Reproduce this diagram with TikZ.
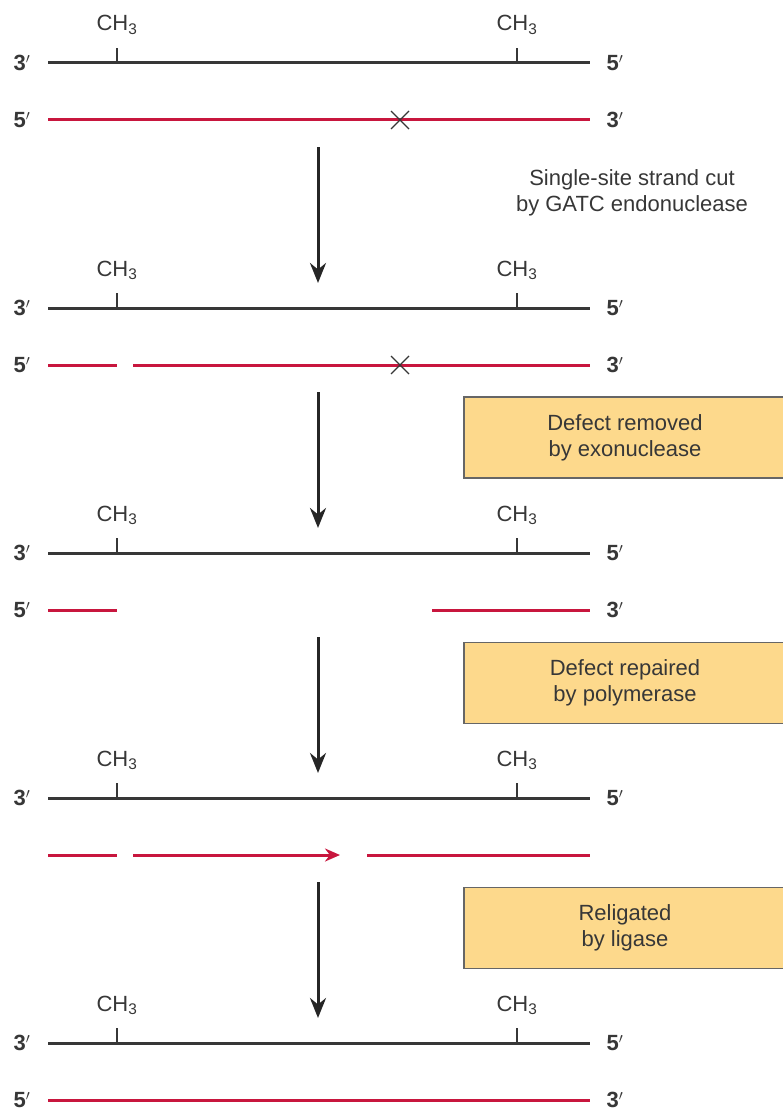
\documentclass[tikz,border=0pt]{standalone}
\usepackage{fontspec}
\setmainfont{Liberation Sans}
\usepackage{xcolor}
\usetikzlibrary{arrows.meta,positioning}
\definecolor{strandred}{RGB}{200,22,62}
\definecolor{notefill}{RGB}{253,217,140}
\definecolor{inkgrey}{RGB}{55,55,55}
\newcommand{\bigtxt}{\fontsize{22}{26}\selectfont}

\begin{document}
\begin{tikzpicture}[x=1pt, y=-1pt,
    parent/.style={line width=3pt, draw=inkgrey},
    daughter/.style={line width=3pt, draw=strandred},
    methyltick/.style={line width=1.3pt, draw=inkgrey},
    endlbl/.style={font=\bigtxt\bfseries, text=inkgrey, inner sep=0pt},
    methyl/.style={font=\bigtxt, text=inkgrey, inner sep=0pt, anchor=base},
    mismatch/.style={line width=1.3pt, draw=inkgrey},
    stepdown/.style={line width=3pt, draw=black!85, -{Stealth[length=20pt, width=16pt]}},
    notebox/.style={rectangle, draw=black!60, line width=1.2pt, fill=notefill,
                    minimum width=322pt, minimum height=81pt, font=\bigtxt,
                    text=inkgrey, align=center},
    >=Stealth
]
\useasboundingbox (0,0) rectangle (782,1113);

% parent strand with methyl marks, five stages
\foreach \i/\y in {1/63,2/308,3/553,4/798,5/1043} {
  \node[endlbl] (p3-\i) at (22,\y) {3$'$};
  \node[endlbl] (p5-\i) at (615,\y) {5$'$};
  \draw[parent] (48,\y) -- (590,\y);
  \draw[methyltick] (117,\y) -- (117,\y-15);
  \draw[methyltick] (517,\y) -- (517,\y-15);
  \node[methyl] (mL-\i) at (117,\y-32) {CH\textsubscript{3}};
  \node[methyl] (mR-\i) at (517,\y-32) {CH\textsubscript{3}};
}

% daughter strand labels
\foreach \i/\y in {1/120,2/365,3/610,5/1100} {
  \node[endlbl] (d5-\i) at (22,\y) {5$'$};
  \node[endlbl] (d3-\i) at (615,\y) {3$'$};
}

% stage 1: intact daughter with mismatch
\draw[daughter] (48,120) -- (590,120);
\draw[mismatch] (391,111) -- (409,129) (391,129) -- (409,111);

% stage 2: nicked
\draw[daughter] (48,365) -- (117,365);
\draw[daughter] (133,365) -- (590,365);
\draw[mismatch] (391,356) -- (409,374) (391,374) -- (409,356);

% stage 3: gap
\draw[daughter] (48,610) -- (117,610);
\draw[daughter] (432,610) -- (590,610);

% stage 4: resynthesis
\draw[daughter] (48,855) -- (117,855);
\draw[daughter, -{Stealth[length=15pt, width=13pt]}] (133,855) -- (340,855);
\draw[daughter] (367,855) -- (590,855);

% stage 5: religated
\draw[daughter] (48,1100) -- (590,1100);

% steps
\foreach \i/\y in {1/63,2/308,3/553,4/798} {
  \coordinate (go-\i) at (318,\y+84);
  \coordinate (to-\i) at (318,\y+220);
  \draw[stepdown] (go-\i) -- (to-\i);
}

\node[font=\bigtxt, text=inkgrey, align=center] (cut) at (632,193)
  {Single-site strand cut\\by GATC endonuclease};
\node[notebox] (exo) at (625,437.5) {Defect removed\\by exonuclease};
\node[notebox] (pol) at (625,683) {Defect repaired\\by polymerase};
\node[notebox] (lig) at (625,928) {Religated\\by ligase};
\end{tikzpicture}
\end{document}
